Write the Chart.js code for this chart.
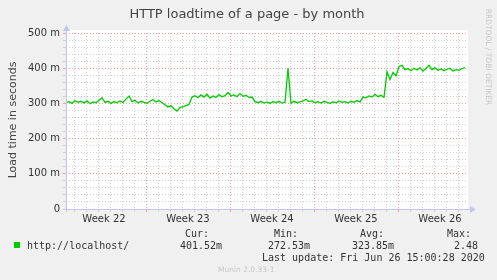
<!DOCTYPE html>
<html><head><meta charset="utf-8">
<script src="https://cdn.jsdelivr.net/npm/chart.js@4"></script>
<style>html,body{margin:0;padding:0;background:#f0f0f0;overflow:hidden}</style>
</head><body>
<canvas id="c" width="497" height="280"></canvas>
<script>
// ---- data ----
const chartTitle = 'HTTP loadtime of a page - by month';
const yAxisTitle = 'Load time in seconds';
const seriesName = 'http://localhost/';
const weekLabels = ['Week 22', 'Week 23', 'Week 24', 'Week 25', 'Week 26'];
const weekCenters = [3.1667, 10.1667, 17.1667, 24.1667, 31.1667];   // in days from left edge
const weekBoundaries = [6.6667, 13.6667, 20.6667, 27.6667];
const yTickValues = [0, 100, 200, 300, 400, 500];
const yTickLabels = ['0', '100 m', '200 m', '300 m', '400 m', '500 m'];
const sampleStepDays = 0.25;
const loadtime = [
 302,305,300,308,303,306,301,307,299,304,302,309,316,303,306,300,305,302,307,303,
 312,321,305,309,301,306,303,300,306,311,304,308,302,296,290,293,285,278,288,291,
 294,297,318,322,316,324,318,326,315,321,317,325,319,322,331,321,324,319,328,320,
 323,317,318,305,302,306,301,304,300,305,302,306,301,303,400,300,306,302,304,307,
 312,305,307,302,305,301,306,303,300,304,302,307,303,305,301,306,303,308,304,318,
 316,321,318,326,319,323,317,390,368,388,378,405,408,396,399,393,400,395,401,392,
 399,408,396,401,394,398,393,397,400,392,396,394,399,402
];
const legendHeaders = ['Cur:', 'Min:', 'Avg:', 'Max:'];
const legendValues = ['401.52m', '272.53m', '323.85m', '2.48'];
const lastUpdate = 'Last update: Fri Jun 26 15:00:28 2020';
const footer = 'Munin 2.0.33-1';
const sideText = 'RRDTOOL / TOBI OETIKER';

// ---- layout/style ----
const X_MIN = 0, X_MAX = 33.5;
const dayLines = [];
for (let d = 0.6667; d < X_MAX; d += 1) dayLines.push(d);
const GRID_MINOR = '#d0d0d0', GRID_MAJOR = '#f0a0a0', AXIS = '#c4c4ee';
const MONO = '10px "DejaVu Sans Mono", monospace';
const SANS = '"DejaVu Sans", sans-serif';
const isBoundary = v => weekBoundaries.some(b => Math.abs(b - v) < 0.01);

const extras = {
  id: 'extras',
  beforeDraw(chart) {
    const {ctx, chartArea: a} = chart;
    ctx.save();
    ctx.fillStyle = '#f0f0f0';
    ctx.fillRect(0, 0, chart.width, chart.height);
    ctx.fillStyle = '#ffffff';
    ctx.fillRect(a.left, a.top - 3, a.right - a.left, a.bottom - a.top + 3);
    ctx.restore();
  },
  afterDraw(chart) {
    const {ctx, chartArea: a} = chart;
    ctx.save();
    // axes
    ctx.strokeStyle = AXIS; ctx.fillStyle = AXIS; ctx.lineWidth = 1;
    ctx.beginPath();
    ctx.moveTo(a.left + 0.5, a.bottom + 3); ctx.lineTo(a.left + 0.5, a.top - 4);
    ctx.moveTo(a.left - 3, a.bottom + 0.5); ctx.lineTo(a.right + 4, a.bottom + 0.5);
    ctx.stroke();
    ctx.beginPath();
    ctx.moveTo(a.left + 0.5, a.top - 8); ctx.lineTo(a.left - 3, a.top - 2); ctx.lineTo(a.left + 4, a.top - 2); ctx.closePath(); ctx.fill();
    ctx.beginPath();
    ctx.moveTo(a.right + 8, a.bottom + 0.5); ctx.lineTo(a.right + 2, a.bottom - 3); ctx.lineTo(a.right + 2, a.bottom + 4); ctx.closePath(); ctx.fill();

    // title
    ctx.fillStyle = '#444';
    ctx.font = '13px ' + SANS;
    ctx.textAlign = 'center'; ctx.textBaseline = 'alphabetic';
    ctx.fillText(chartTitle, 247, 18);
    // y title
    ctx.save();
    ctx.translate(16, 120); ctx.rotate(-Math.PI / 2);
    ctx.font = '11px ' + SANS; ctx.fillStyle = '#444';
    ctx.fillText(yAxisTitle, 0, 0);
    ctx.restore();
    // side text
    ctx.save();
    ctx.translate(486, 57); ctx.rotate(Math.PI / 2);
    ctx.font = '7.5px ' + SANS; ctx.fillStyle = '#c8c8c8';
    ctx.textAlign = 'center';
    ctx.fillText(sideText, 0, 0);
    ctx.restore();

    // legend
    const ds = chart.data.datasets[0];
    ctx.fillStyle = ds.borderColor;
    ctx.fillRect(14, 242, 6, 6);
    ctx.font = MONO; ctx.fillStyle = '#333'; ctx.textAlign = 'left';
    ctx.fillText(seriesName, 27, 249);
    const headerX = [185, 274, 360, 447];
    const valueX = [180, 268, 352, 454];
    legendHeaders.forEach((h, i) => ctx.fillText(h, headerX[i], 237));
    legendValues.forEach((v, i) => ctx.fillText(v, valueX[i], 249));
    ctx.fillText(lastUpdate, 262, 261);
    ctx.font = '7.5px ' + SANS; ctx.fillStyle = '#c8c8c8';
    ctx.fillText(footer, 218, 272);
    ctx.restore();
  }
};

new Chart(document.getElementById('c'), {
  type: 'line',
  data: {
    datasets: [{
      label: seriesName,
      data: loadtime.map((v, i) => ({x: i * sampleStepDays, y: v})),
      borderColor: '#00cc00',
      borderWidth: 1.3,
      pointRadius: 0,
      tension: 0,
      fill: false
    }]
  },
  options: {
    responsive: false,
    animation: false,
    devicePixelRatio: 1,
    layout: {padding: {left: 0, top: 33, right: 29, bottom: 0}},
    plugins: {legend: {display: false}, tooltip: {enabled: false}, title: {display: false}},
    scales: {
      x: {
        type: 'linear', min: X_MIN, max: X_MAX, position: 'bottom',
        afterBuildTicks: s => { s.ticks = dayLines.map(v => ({value: v})); },
        afterFit: s => { s.height = 0; },
        ticks: {display: false},
        grid: {
          color: c => isBoundary(c.tick.value) ? GRID_MAJOR : GRID_MINOR,
          lineWidth: 1, drawTicks: true, tickLength: 3
        },
        border: {display: false, dash: [1, 2]}
      },
      xl: {
        type: 'linear', min: X_MIN, max: X_MAX, position: 'bottom',
        afterBuildTicks: s => { s.ticks = weekCenters.map(v => ({value: v})); },
        afterFit: s => { s.height = 71; },
        ticks: {
          autoSkip: false, maxRotation: 0, padding: 4,
          color: '#333', font: {family: SANS, size: 10},
          callback: (v, i) => weekLabels[i]
        },
        grid: {display: false, drawTicks: false},
        border: {display: false}
      },
      y: {
        type: 'linear', min: 0, max: 500,
        afterBuildTicks: s => { const t = []; for (let v = 0; v <= 500; v += 20) t.push({value: v}); s.ticks = t; },
        afterFit: s => { s.width = 66; },
        ticks: {
          autoSkip: false, padding: 3, color: '#333', font: {family: SANS, size: 10},
          callback: v => { const k = yTickValues.indexOf(v); return k >= 0 ? yTickLabels[k] : ''; }
        },
        grid: {
          color: c => c.tick.value === 0 ? 'rgba(0,0,0,0)' : (c.tick.value % 100 === 0 ? GRID_MAJOR : GRID_MINOR),
          lineWidth: 1, drawTicks: true, tickLength: 3
        },
        border: {display: false, dash: [1, 2]}
      }
    }
  },
  plugins: [extras]
});
</script>
</body></html>
